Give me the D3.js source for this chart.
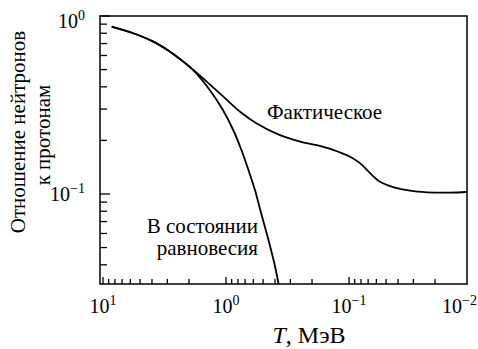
<!DOCTYPE html>
<html>
<head>
<meta charset="utf-8">
<script src="https://cdn.jsdelivr.net/npm/d3@7"></script>
</head>
<body style="margin:0">
<script>
// T in MeV and n/p ratio
const tActual = [8.5, 5.68, 3.9, 2.85, 2.22, 1.845, 1.436, 1.051, 0.769, 0.563, 0.364, 0.25, 0.183, 0.135, 0.0982, 0.0815, 0.0675, 0.056, 0.0438, 0.0319, 0.0233, 0.0151, 0.011];
const ratioActual = [0.871, 0.8, 0.718, 0.63, 0.553, 0.497, 0.428, 0.352, 0.29, 0.249, 0.214, 0.197, 0.188, 0.177, 0.162, 0.149, 0.131, 0.117, 0.1094, 0.1043, 0.1022, 0.1017, 0.1026];
const tEquil = [8.5, 5.68, 3.9, 2.85, 2.22, 1.845, 1.357, 1.06, 0.874, 0.75, 0.6575, 0.582, 0.527, 0.452, 0.402, 0.3743];
const ratioEquil = [0.871, 0.8, 0.718, 0.63, 0.553, 0.497, 0.384, 0.2965, 0.2288, 0.1767, 0.1364, 0.1053, 0.0813, 0.0551, 0.0399, 0.0312];

const xLabelExps = ["1", "0", "−1", "−2"];
const yLabelExps = ["0", "−1"];
const yTitle = ["Отношение нейтронов", "к протонам"];
const labelActual = "Фактическое";
const labelEquil = ["В состоянии", "равновесия"];

const width = 478,
      height = 349;
const m = {left: 100, right: 467, top: 16, bottom: 284};
const fontFam = "'Liberation Serif', Tinos, 'Times New Roman', serif";

const x = d3.scaleLog()
    .domain([10.58, 0.011])
    .range([m.left, m.right]);

const y = d3.scaleLog()
    .domain([0.0312, 1])
    .range([m.bottom, m.top]);

const svg = d3.select("body").append("svg")
    .attr("width", width)
    .attr("height", height)
    .attr("font-family", fontFam)
    .style("font-family", fontFam);

function addText(sel, size) {
  return sel.append("text")
      .attr("font-family", fontFam)
      .style("font-family", fontFam)
      .attr("font-size", size);
}

// ticks, minor and major
const isMajor = v => Math.abs(Math.log10(v) - Math.round(Math.log10(v))) < 1e-6;

svg.append("g").selectAll("line")
    .data(x.ticks())
    .join("line")
    .attr("stroke", "#000").attr("stroke-width", 1.3)
    .attr("x1", d => x(d)).attr("x2", d => x(d))
    .attr("y1", m.bottom).attr("y2", d => m.bottom - (isMajor(d) ? 7 : 5));

svg.append("g").selectAll("line")
    .data(y.ticks())
    .join("line")
    .attr("stroke", "#000").attr("stroke-width", 1.3)
    .attr("y1", d => y(d)).attr("y2", d => y(d))
    .attr("x1", m.left).attr("x2", d => m.left + (isMajor(d) ? 10 : 7));

svg.append("rect")
    .attr("fill", "none").attr("stroke", "#000").attr("stroke-width", 1.5)
    .attr("x", m.left).attr("y", m.top)
    .attr("width", m.right - m.left).attr("height", m.bottom - m.top);

// curves
const line = d3.line()
    .x(d => x(d[0]))
    .y(d => y(d[1]))
    .curve(d3.curveCatmullRom.alpha(0.5));

[d3.zip(tActual, ratioActual), d3.zip(tEquil, ratioEquil)].forEach(pts => {
  svg.append("path")
      .datum(pts)
      .attr("fill", "none").attr("stroke", "#000").attr("stroke-width", 1.8)
      .attr("d", line);
});

// tick labels: 10 with a superscript
function powerLabel(t, exp) {
  t.append("tspan").text("10");
  t.append("tspan").attr("dy", -8).attr("font-size", 14).text(exp);
}

xLabelExps.forEach(e => {
  const v = Math.pow(10, +e.replace("−", "-"));
  const cx = x(v);
  const out = cx > m.right;   // 10^-2 sits past the frame, keep it inside the page
  addText(svg, 20)
      .attr("x", out ? width - 1 : cx)
      .attr("y", 313)
      .attr("text-anchor", out ? "end" : "middle")
      .call(powerLabel, e);
});

yLabelExps.forEach(e => {
  const v = Math.pow(10, +e.replace("−", "-"));
  addText(svg, 20)
      .attr("x", m.left - 15)
      .attr("y", Math.max(y(v), 20) + 7.5)
      .attr("text-anchor", "end")
      .call(powerLabel, e);
});

// axis titles
const xt = addText(svg, 24)
    .attr("x", 309).attr("y", 343)
    .attr("text-anchor", "middle");
xt.append("tspan").attr("font-style", "italic").text("T");
xt.append("tspan").text(", МэВ");

addText(svg, 21)
    .attr("transform", "translate(25,132) rotate(-90)")
    .attr("text-anchor", "middle")
    .text(yTitle[0]);

addText(svg, 21)
    .attr("transform", "translate(50,135) rotate(-90)")
    .attr("text-anchor", "middle")
    .text(yTitle[1]);

// curve labels
addText(svg, 21)
    .attr("x", 267).attr("y", 119)
    .text(labelActual);

labelEquil.forEach((d, i) => {
  addText(svg, 21)
      .attr("x", 258)
      .attr("y", 233 + i * 22)
      .attr("text-anchor", "end")
      .text(d);
});
</script>
</body>
</html>
